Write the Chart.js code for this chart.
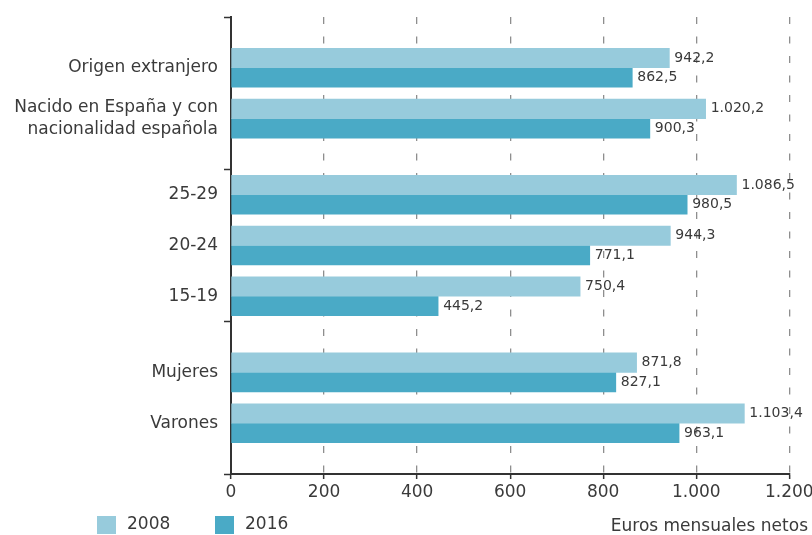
<!DOCTYPE html>
<html>
<head>
<meta charset="utf-8">
<script src="https://cdn.jsdelivr.net/npm/chart.js@4/dist/chart.umd.min.js"></script>
<style>
  html, body { margin: 0; padding: 0; background: #ffffff; }
  #wrap { width: 812px; height: 535px; }
</style>
</head>
<body>
<div id="wrap"><canvas id="c" width="812" height="535"></canvas></div>
<script>
// Salario mensual neto de los jóvenes, 2008 y 2016
const categories = [
  'Origen extranjero',
  ['Nacido en España y con', 'nacionalidad española'],
  '25-29',
  '20-24',
  '15-19',
  'Mujeres',
  'Varones'
];
const groupSizes = [2, 3, 2];
const seriesNames = ['2008', '2016'];
const values2008 = [942.2, 1020.2, 1086.5, 944.3, 750.4, 871.8, 1103.4];
const values2016 = [862.5, 900.3, 980.5, 771.1, 445.2, 827.1, 963.1];
const xTickValues = [0, 200, 400, 600, 800, 1000, 1200];
const axisTitle = 'Euros mensuales netos';

const FONT = '"DejaVu Sans", sans-serif';
const TEXT = '#3a3a3a';
const COLORS = ['#97cbdc', '#4aaac6'];

// Each group takes three units of the index axis; its rows are centred in it.
const GROUP_SPAN = 3;
const slots = [];
const separators = [0];
let groupStart = 0;
groupSizes.forEach(n => {
  const first = groupStart + (GROUP_SPAN - (n - 1)) / 2;
  for (let i = 0; i < n; i++) slots.push(first + i);
  groupStart += GROUP_SPAN;
  separators.push(groupStart);
});

// Spanish number format: "." for thousands, "," for decimals
function fmt(v, decimals) {
  const [intPart, decPart] = v.toFixed(decimals).split('.');
  const grouped = intPart.replace(/\B(?=(\d{3})+(?!\d))/g, '.');
  return decPart ? grouped + ',' + decPart : grouped;
}

const valueLabels = {
  id: 'valueLabels',
  afterDatasetsDraw(chart) {
    const ctx = chart.ctx;
    ctx.save();
    ctx.font = '14px ' + FONT;
    ctx.fillStyle = TEXT;
    ctx.textAlign = 'left';
    ctx.textBaseline = 'middle';
    chart.data.datasets.forEach((ds, di) => {
      chart.getDatasetMeta(di).data.forEach((bar, i) => {
        ctx.fillText(fmt(ds.data[i].x, 1), bar.x + 5, bar.y);
      });
    });
    ctx.restore();
  }
};

const footer = {
  id: 'footer',
  afterDraw(chart) {
    const ctx = chart.ctx;
    ctx.save();
    ctx.font = '17px ' + FONT;
    ctx.textBaseline = 'middle';
    const keyX = [97, 215];
    chart.data.datasets.forEach((ds, i) => {
      ctx.fillStyle = ds.backgroundColor;
      ctx.fillRect(keyX[i], 516, 19, 18);
      ctx.fillStyle = TEXT;
      ctx.textAlign = 'left';
      ctx.fillText(ds.label, keyX[i] + 30, 525);
    });
    ctx.fillStyle = TEXT;
    ctx.textAlign = 'right';
    ctx.fillText(axisTitle, 808, 527);
    ctx.restore();
  }
};

new Chart(document.getElementById('c'), {
  type: 'bar',
  data: {
    datasets: [
      {
        label: seriesNames[0],
        data: values2008.map((v, i) => ({ x: v, y: slots[i] })),
        backgroundColor: COLORS[0],
        barThickness: 19.5
      },
      {
        label: seriesNames[1],
        data: values2016.map((v, i) => ({ x: v, y: slots[i] })),
        backgroundColor: COLORS[1],
        barThickness: 19.5
      }
    ]
  },
  options: {
    indexAxis: 'y',
    responsive: false,
    animation: false,
    devicePixelRatio: 1,
    layout: { padding: { top: 17, right: 22.7, left: 0, bottom: 0 } },
    plugins: {
      legend: { display: false },
      tooltip: { enabled: false }
    },
    scales: {
      x: {
        type: 'linear',
        position: 'bottom',
        min: 0,
        max: 1200,
        afterBuildTicks: s => { s.ticks = xTickValues.map(v => ({ value: v })); },
        afterFit: s => { s.height = 61; s.paddingLeft = 0; s.paddingRight = 0; },
        ticks: {
          callback: v => fmt(v, 0),
          color: TEXT,
          font: { family: FONT, size: 17 },
          padding: 3,
          maxRotation: 0,
          autoSkip: false
        },
        grid: {
          color: ctx => (ctx.tick && ctx.tick.value === 0) ? 'rgba(0,0,0,0)' : '#8e8e8e',
          lineWidth: 1.3,
          drawTicks: true,
          tickLength: 5,
          tickColor: '#333333',
          tickWidth: 1.5
        },
        border: { display: true, color: '#333333', width: 2, dash: [7, 12.5] }
      },
      y: {
        type: 'linear',
        position: 'left',
        reverse: true,
        offset: false,
        min: 0,
        max: GROUP_SPAN * groupSizes.length,
        afterBuildTicks: s => {
          s.ticks = separators.concat(slots).sort((a, b) => a - b).map(v => ({ value: v }));
        },
        afterFit: s => { s.width = 231; s.paddingTop = 0; s.paddingBottom = 0; },
        ticks: {
          callback: v => {
            const i = slots.indexOf(v);
            return i >= 0 ? categories[i] : '';
          },
          color: TEXT,
          font: { family: FONT, size: 17, lineHeight: 1.25 },
          padding: 6,
          autoSkip: false
        },
        grid: {
          display: true,
          offset: false,
          drawOnChartArea: false,
          drawTicks: true,
          tickLength: 7,
          tickWidth: 1.5,
          tickColor: ctx => (ctx.tick && separators.includes(ctx.tick.value)) ? '#333333' : 'rgba(0,0,0,0)'
        },
        border: { display: true, color: '#333333', width: 2 }
      }
    }
  },
  plugins: [valueLabels, footer]
});
</script>
</body>
</html>
